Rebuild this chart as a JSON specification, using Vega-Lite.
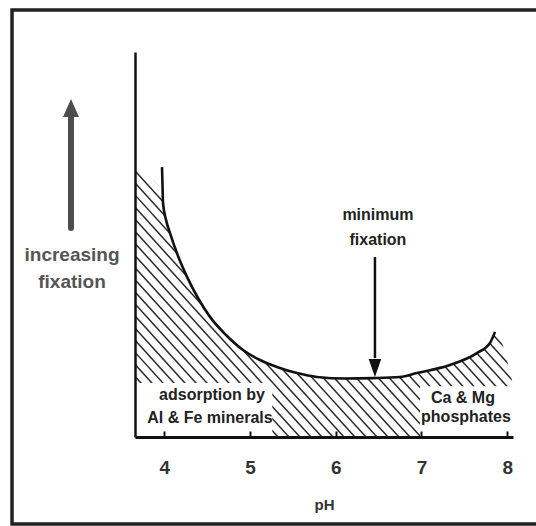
{
  "$schema": "https://vega.github.io/schema/vega-lite/v6.json",
  "width": 378,
  "height": 385,
  "autosize": {"type": "none"},
  "padding": {"left": 135, "top": 52, "right": 23, "bottom": 89},
  "background": "white",
  "config": {
    "view": {"stroke": null},
    "font": "Liberation Sans",
    "axis": {"grid": false, "domainColor": "#111111"},
    "axisX": {
      "tickCount": 5, "domainWidth": 3,
      "tickColor": "#111111", "tickWidth": 2, "tickSize": -6,
      "labelFont": "Liberation Sans", "labelFontSize": 19, "labelFontWeight": "bold", "labelColor": "#333333",
      "labelPadding": 27, "labelFlush": false, "labelOverlap": false,
      "titleFont": "Liberation Sans", "titleFontSize": 15, "titleFontWeight": "bold", "titleColor": "#333333",
      "titlePadding": 20
    },
    "axisY": {"domainWidth": 2.5, "ticks": false, "labels": false}
  },
  "datasets": {
    "hatch": [
      {"a": -0.427, "b": 3.657}, {"a": -0.299, "b": 3.785}, {"a": -0.170, "b": 3.914}, {"a": -0.042, "b": 4.042},
      {"a": 0.086, "b": 4.170}, {"a": 0.215, "b": 4.299}, {"a": 0.343, "b": 4.427}, {"a": 0.472, "b": 4.556},
      {"a": 0.600, "b": 4.684}, {"a": 0.728, "b": 4.812}, {"a": 0.857, "b": 4.941}, {"a": 0.985, "b": 5.069},
      {"a": 1.113, "b": 5.197}, {"a": 1.242, "b": 5.326}, {"a": 1.370, "b": 5.454}, {"a": 1.498, "b": 5.582},
      {"a": 1.627, "b": 5.711}, {"a": 1.755, "b": 5.839}, {"a": 1.883, "b": 5.967}, {"a": 2.012, "b": 6.096},
      {"a": 2.140, "b": 6.224}, {"a": 2.269, "b": 6.353}, {"a": 2.397, "b": 6.481}, {"a": 2.525, "b": 6.609},
      {"a": 2.654, "b": 6.738}, {"a": 2.782, "b": 6.866}, {"a": 2.910, "b": 6.994}, {"a": 3.039, "b": 7.123},
      {"a": 3.167, "b": 7.251}, {"a": 3.295, "b": 7.379}, {"a": 3.424, "b": 7.508}, {"a": 3.552, "b": 7.636},
      {"a": 3.680, "b": 7.764}, {"a": 3.809, "b": 7.893}, {"a": 3.937, "b": 8.021}, {"a": 4.065, "b": 8.149},
      {"a": 4.194, "b": 8.278}, {"a": 4.322, "b": 8.406}, {"a": 4.451, "b": 8.535}, {"a": 4.579, "b": 8.663},
      {"a": 4.707, "b": 8.791}, {"a": 4.836, "b": 8.920}
    ],
    "mask": [
      {"ph": 3.657, "fix": 69.4}, {"ph": 3.972, "fix": 63.9}, {"ph": 3.984, "fix": 60.8}, {"ph": 4.019, "fix": 56.4},
      {"ph": 4.065, "fix": 53.0}, {"ph": 4.159, "fix": 47.0}, {"ph": 4.264, "fix": 41.6}, {"ph": 4.392, "fix": 36.1},
      {"ph": 4.532, "fix": 31.2}, {"ph": 4.719, "fix": 26.5}, {"ph": 4.917, "fix": 22.6}, {"ph": 5.116, "fix": 20.0},
      {"ph": 5.314, "fix": 18.2}, {"ph": 5.547, "fix": 16.6}, {"ph": 5.781, "fix": 15.6}, {"ph": 6.107, "fix": 15.2},
      {"ph": 6.434, "fix": 15.3}, {"ph": 6.749, "fix": 15.6}, {"ph": 6.947, "fix": 16.6}, {"ph": 7.332, "fix": 18.7},
      {"ph": 7.647, "fix": 21.8}, {"ph": 7.799, "fix": 24.4}, {"ph": 7.858, "fix": 27.3}, {"ph": 8.068, "fix": 13.5}
    ],
    "curve": [
      {"ph": 3.972, "fix": 70.1}, {"ph": 3.978, "fix": 65.5}, {"ph": 3.984, "fix": 60.8}, {"ph": 4.019, "fix": 56.4},
      {"ph": 4.065, "fix": 53.0}, {"ph": 4.159, "fix": 47.0}, {"ph": 4.264, "fix": 41.6}, {"ph": 4.392, "fix": 36.1},
      {"ph": 4.532, "fix": 31.2}, {"ph": 4.719, "fix": 26.5}, {"ph": 4.917, "fix": 22.6}, {"ph": 5.116, "fix": 20.0},
      {"ph": 5.314, "fix": 18.2}, {"ph": 5.547, "fix": 16.6}, {"ph": 5.781, "fix": 15.6}, {"ph": 6.107, "fix": 15.2},
      {"ph": 6.434, "fix": 15.3}, {"ph": 6.749, "fix": 15.6}, {"ph": 6.947, "fix": 16.6}, {"ph": 7.332, "fix": 18.7},
      {"ph": 7.647, "fix": 21.8}, {"ph": 7.799, "fix": 24.4}, {"ph": 7.858, "fix": 27.3}
    ],
    "boxes": [
      {"x1": 3.657, "x2": 5.259, "y1": 0, "y2": 14.0},
      {"x1": 6.983, "x2": 8.068, "y1": 0, "y2": 13.2}
    ],
    "uparrow": [{"ph": 2.91, "from": 54.3, "to": 84.4, "head": 85.45}],
    "downarrow": [{"ph": 6.457, "from": 46.75, "to": 20.5, "head": 17.9}],
    "notes": [
      {"ph": 6.492, "fix": 57.7, "label": "minimum"},
      {"ph": 6.492, "fix": 51.2, "label": "fixation"},
      {"ph": 4.555, "fix": 10.9, "label": "adsorption by"},
      {"ph": 4.532, "fix": 4.9, "label": "Al & Fe minerals"},
      {"ph": 7.484, "fix": 10.1, "label": "Ca & Mg"},
      {"ph": 7.519, "fix": 5.2, "label": "phosphates"}
    ],
    "ylabel": [
      {"ph": 2.922, "fix": 47.3, "label": "increasing"},
      {"ph": 2.922, "fix": 40.3, "label": "fixation"}
    ]
  },
  "layer": [
    {
      "data": {"name": "hatch"},
      "mark": {"type": "rule", "clip": true, "stroke": "#2b2b2b", "strokeWidth": 1.5},
      "encoding": {
        "x": {"field": "a", "type": "quantitative", "title": "pH", "axis": {"zindex": 1}, "scale": {"domain": [3.657, 8.068], "nice": false, "zero": false}},
        "x2": {"field": "b"},
        "y": {"datum": 100, "type": "quantitative", "title": null, "axis": {"zindex": 1}, "scale": {"domain": [0, 100], "nice": false, "zero": false}},
        "y2": {"datum": 0}
      }
    },
    {
      "data": {"name": "mask"},
      "mark": {"type": "area", "clip": true, "fill": "white", "interpolate": "monotone"},
      "encoding": {
        "x": {"field": "ph", "type": "quantitative", "title": "pH", "axis": {"zindex": 1}},
        "y": {"field": "fix", "type": "quantitative", "title": null, "axis": {"zindex": 1}},
        "y2": {"datum": 110}
      }
    },
    {
      "data": {"name": "boxes"},
      "mark": {"type": "rect", "fill": "white"},
      "encoding": {
        "x": {"field": "x1", "type": "quantitative", "title": "pH", "axis": {"zindex": 1}},
        "x2": {"field": "x2"},
        "y": {"field": "y1", "type": "quantitative", "title": null, "axis": {"zindex": 1}},
        "y2": {"field": "y2"}
      }
    },
    {
      "data": {"name": "curve"},
      "mark": {"type": "line", "stroke": "#111111", "strokeWidth": 2.6, "interpolate": "monotone"},
      "encoding": {
        "x": {"field": "ph", "type": "quantitative", "title": "pH", "axis": {"zindex": 1}},
        "y": {"field": "fix", "type": "quantitative", "title": null, "axis": {"zindex": 1}}
      }
    },
    {
      "data": {"name": "uparrow"},
      "mark": {"type": "rule", "clip": false, "stroke": "#4d4d4d", "strokeWidth": 6, "strokeCap": "round"},
      "encoding": {
        "x": {"field": "ph", "type": "quantitative", "title": "pH", "axis": {"zindex": 1}},
        "y": {"field": "from", "type": "quantitative", "title": null, "axis": {"zindex": 1}},
        "y2": {"field": "to"}
      }
    },
    {
      "data": {"name": "uparrow"},
      "mark": {"type": "point", "clip": false, "filled": true, "opacity": 1, "color": "#4d4d4d", "shape": "M0,-1L-0.89,1L0.89,1Z", "size": 324},
      "encoding": {
        "x": {"field": "ph", "type": "quantitative", "title": "pH", "axis": {"zindex": 1}},
        "y": {"field": "head", "type": "quantitative", "title": null, "axis": {"zindex": 1}}
      }
    },
    {
      "data": {"name": "downarrow"},
      "mark": {"type": "rule", "stroke": "#111111", "strokeWidth": 2.5},
      "encoding": {
        "x": {"field": "ph", "type": "quantitative", "title": "pH", "axis": {"zindex": 1}},
        "y": {"field": "from", "type": "quantitative", "title": null, "axis": {"zindex": 1}},
        "y2": {"field": "to"}
      }
    },
    {
      "data": {"name": "downarrow"},
      "mark": {"type": "point", "filled": true, "opacity": 1, "color": "#111111", "shape": "M0,1L-0.7,-1L0.7,-1Z", "size": 324},
      "encoding": {
        "x": {"field": "ph", "type": "quantitative", "title": "pH", "axis": {"zindex": 1}},
        "y": {"field": "head", "type": "quantitative", "title": null, "axis": {"zindex": 1}}
      }
    },
    {
      "data": {"name": "notes"},
      "mark": {"type": "text", "font": "Liberation Sans", "fontSize": 16, "fontWeight": "bold", "fill": "#222222", "align": "center", "baseline": "middle"},
      "encoding": {
        "x": {"field": "ph", "type": "quantitative", "title": "pH", "axis": {"zindex": 1}},
        "y": {"field": "fix", "type": "quantitative", "title": null, "axis": {"zindex": 1}},
        "text": {"field": "label"}
      }
    },
    {
      "data": {"name": "ylabel"},
      "mark": {"type": "text", "clip": false, "font": "Liberation Sans", "fontSize": 19, "fontWeight": "bold", "fill": "#555555", "align": "center", "baseline": "middle"},
      "encoding": {
        "x": {"field": "ph", "type": "quantitative", "title": "pH", "axis": {"zindex": 1}},
        "y": {"field": "fix", "type": "quantitative", "title": null, "axis": {"zindex": 1}},
        "text": {"field": "label"}
      }
    },
    {
      "data": {"values": [{}]},
      "mark": {"type": "rect", "clip": false, "fill": null, "fillOpacity": 0, "stroke": "#222222", "strokeWidth": 3.5},
      "encoding": {
        "x": {"datum": 2.222, "type": "quantitative", "title": "pH", "axis": {"zindex": 1}},
        "x2": {"datum": 8.441},
        "y": {"datum": 110.9, "type": "quantitative", "title": null, "axis": {"zindex": 1}},
        "y2": {"datum": -22.6}
      }
    }
  ]
}
